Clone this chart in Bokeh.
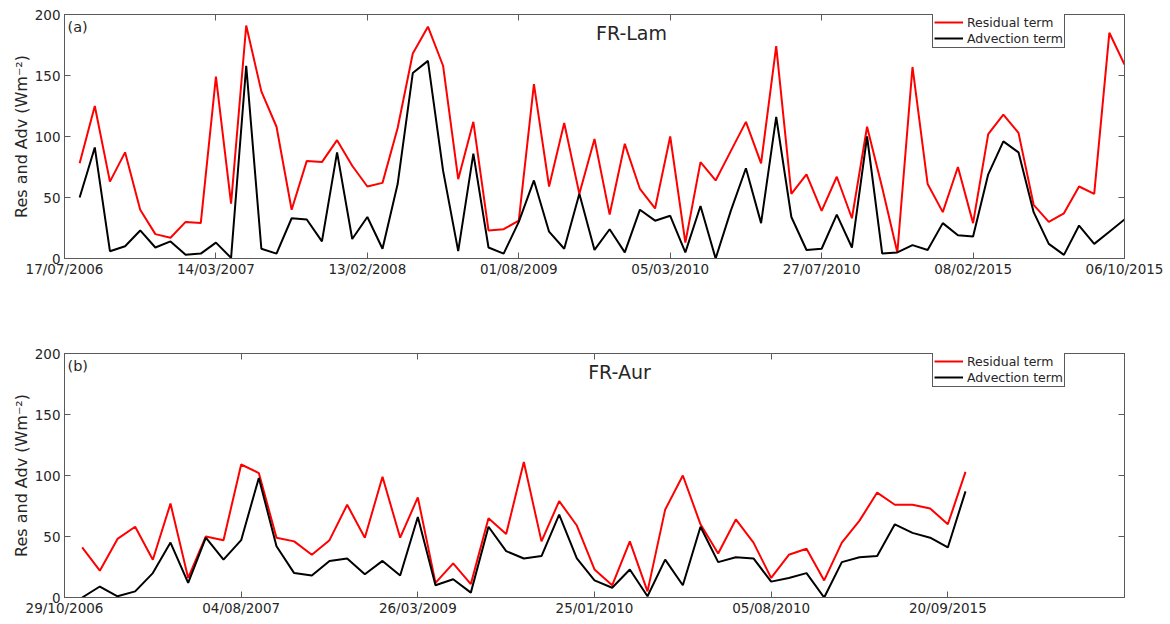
from bokeh.plotting import figure
from bokeh.layouts import column
from bokeh.models import FixedTicker, LinearAxis, Label, Legend, LegendItem, Range1d
from bokeh.embed import file_html
from bokeh.resources import INLINE

# ---------------- data ----------------
lam_ticks_labels = ["17/07/2006", "14/03/2007", "13/02/2008", "01/08/2009",
                    "05/03/2010", "27/07/2010", "08/02/2015", "06/10/2015"]
lam_residual = [78, 125, 63, 87, 40, 20, 17, 30, 29, 149,
                45, 191, 137, 108, 40, 80, 79, 97, 76, 59,
                62, 107, 168, 190, 158, 65, 112, 23, 24, 31,
                143, 59, 111, 53, 98, 36, 94, 57, 41, 100,
                13, 79, 64, 88, 112, 78, 174, 53, 69, 39,
                67, 33, 108, 58, 5, 157, 61, 38, 75, 29,
                102, 118, 103, 44, 30, 37, 59, 53, 185, 159]
lam_advection = [50, 91, 6, 10, 23, 9, 14, 3, 4, 13,
                 0.5, 158, 8, 4, 33, 32, 14, 87, 16, 34,
                 8, 61, 152, 162, 72, 6, 86, 9, 4, 30,
                 64, 22, 8, 53, 7, 24, 5, 40, 31, 35,
                 5, 43, 0, 39, 74, 29, 116, 34, 7, 8,
                 36, 9, 100, 4, 5, 11, 7, 29, 19, 18,
                 69, 96, 87, 38, 12, 3, 27, 12, 22, 32]

aur_ticks_labels = ["29/10/2006", "04/08/2007", "26/03/2009", "25/01/2010",
                    "05/08/2010", "20/09/2015", ""]
aur_residual = [41, 22, 48, 58, 31, 77, 16, 50, 47, 109,
                102, 49, 46, 35, 47, 76, 49, 99, 49, 82,
                12, 28, 11, 65, 52, 111, 46, 79, 59, 23,
                10, 46, 5, 72, 100, 60, 36, 64, 45, 16,
                35, 40, 14, 45, 63, 86, 76, 76, 73, 60,
                103]
aur_advection = [0, 9, 1, 5, 20, 45, 12, 49, 31, 47,
                 98, 42, 20, 18, 30, 32, 19, 30, 18, 66,
                 10, 15, 4, 58, 38, 32, 34, 68, 32, 14,
                 8, 23, 1, 31, 10, 58, 29, 33, 32, 13,
                 16, 20, 0, 29, 33, 34, 60, 53, 49, 41,
                 87]

y_ticks = [0, 50, 100, 150, 200]
FONT = "DejaVu Sans"
TXT = "#262626"
BOX = "#5a5a5a"


def make_panel(res, adv, tick_labels, n_ticks_step, title, tag, top_border, bottom_border, title_x):
    n_int = len(tick_labels) - 1
    xmax = n_int * n_ticks_step
    p = figure(frame_width=1060, frame_height=244, output_backend="svg",
               toolbar_location=None, x_range=Range1d(0, xmax), y_range=Range1d(0, 200),
               min_border_left=64, min_border_right=40,
               min_border_top=top_border, min_border_bottom=bottom_border,
               background_fill_color="white", border_fill_color="white")
    p.xgrid.visible = False
    p.ygrid.visible = False
    p.outline_line_color = BOX
    p.outline_line_width = 1

    xt = [i * n_ticks_step for i in range(len(tick_labels))]
    x = list(range(1, len(res) + 1))

    r1 = p.line(x, res, line_color="#ff0000", line_width=2)
    r2 = p.line(x, adv, line_color="#000000", line_width=2)

    xa = p.xaxis[0]
    xa.ticker = FixedTicker(ticks=xt)
    xa.major_label_overrides = {t: l for t, l in zip(xt, tick_labels)}
    ya = p.yaxis[0]
    ya.ticker = FixedTicker(ticks=y_ticks)
    ya.axis_label = "Res and Adv (Wm\u207b\u00b2)"
    ya.axis_label_text_font = FONT
    ya.axis_label_text_font_size = "16px"
    ya.axis_label_text_font_style = "normal"
    ya.axis_label_text_color = TXT
    ya.axis_label_standoff = 1
    for ax in (xa, ya):
        ax.axis_line_color = BOX
        ax.major_tick_line_color = BOX
        ax.major_tick_in = 6
        ax.major_tick_out = 0
        ax.minor_tick_line_color = None
        ax.major_label_text_font = FONT
        ax.major_label_text_font_size = "13.5px"
        ax.major_label_text_color = TXT
    xa.major_label_standoff = 2
    ya.major_label_standoff = 4

    # top and right axes: inward ticks only, labels not drawn
    top = LinearAxis(ticker=FixedTicker(ticks=xt))
    right = LinearAxis(ticker=FixedTicker(ticks=y_ticks))
    for ax in (top, right):
        ax.axis_line_color = BOX
        ax.major_tick_line_color = BOX
        ax.major_tick_in = 6
        ax.major_tick_out = 0
        ax.minor_tick_line_color = None
        ax.major_label_text_font_size = "1px"
        ax.major_label_text_color = None
        ax.major_label_standoff = 0
    p.add_layout(top, "above")
    p.add_layout(right, "right")

    legend = Legend(items=[LegendItem(label="Residual term", renderers=[r1]),
                           LegendItem(label="Advection term", renderers=[r2])],
                    location=(868, 210))
    legend.label_text_font = FONT
    legend.label_text_font_size = "12.5px"
    legend.label_text_color = TXT
    legend.border_line_color = BOX
    legend.border_line_width = 1
    legend.border_line_alpha = 1
    legend.background_fill_alpha = 1
    legend.padding = 1
    legend.spacing = 0
    legend.margin = 0
    legend.glyph_width = 29
    legend.glyph_height = 16
    legend.label_height = 16
    legend.label_standoff = 4
    p.add_layout(legend, "center")

    p.add_layout(Label(x=title_x, y=226, x_units="screen", y_units="screen",
                       text=title, text_align="center", text_baseline="middle",
                       text_font=FONT, text_font_size="19px", text_color=TXT))
    p.add_layout(Label(x=3, y=232, x_units="screen", y_units="screen",
                       text=tag, text_align="left", text_baseline="middle",
                       text_font=FONT, text_font_size="14.5px", text_color=TXT))
    return p


p1 = make_panel(lam_residual, lam_advection, lam_ticks_labels, 10, "FR-Lam", "(a)", 14, 45, 567)
p2 = make_panel(aur_residual, aur_advection, aur_ticks_labels, 10, "FR-Aur", "(b)", 50, 24, 555)

layout = column(p1, p2, spacing=0)
open("out.html", "w").write(file_html(layout, INLINE))
